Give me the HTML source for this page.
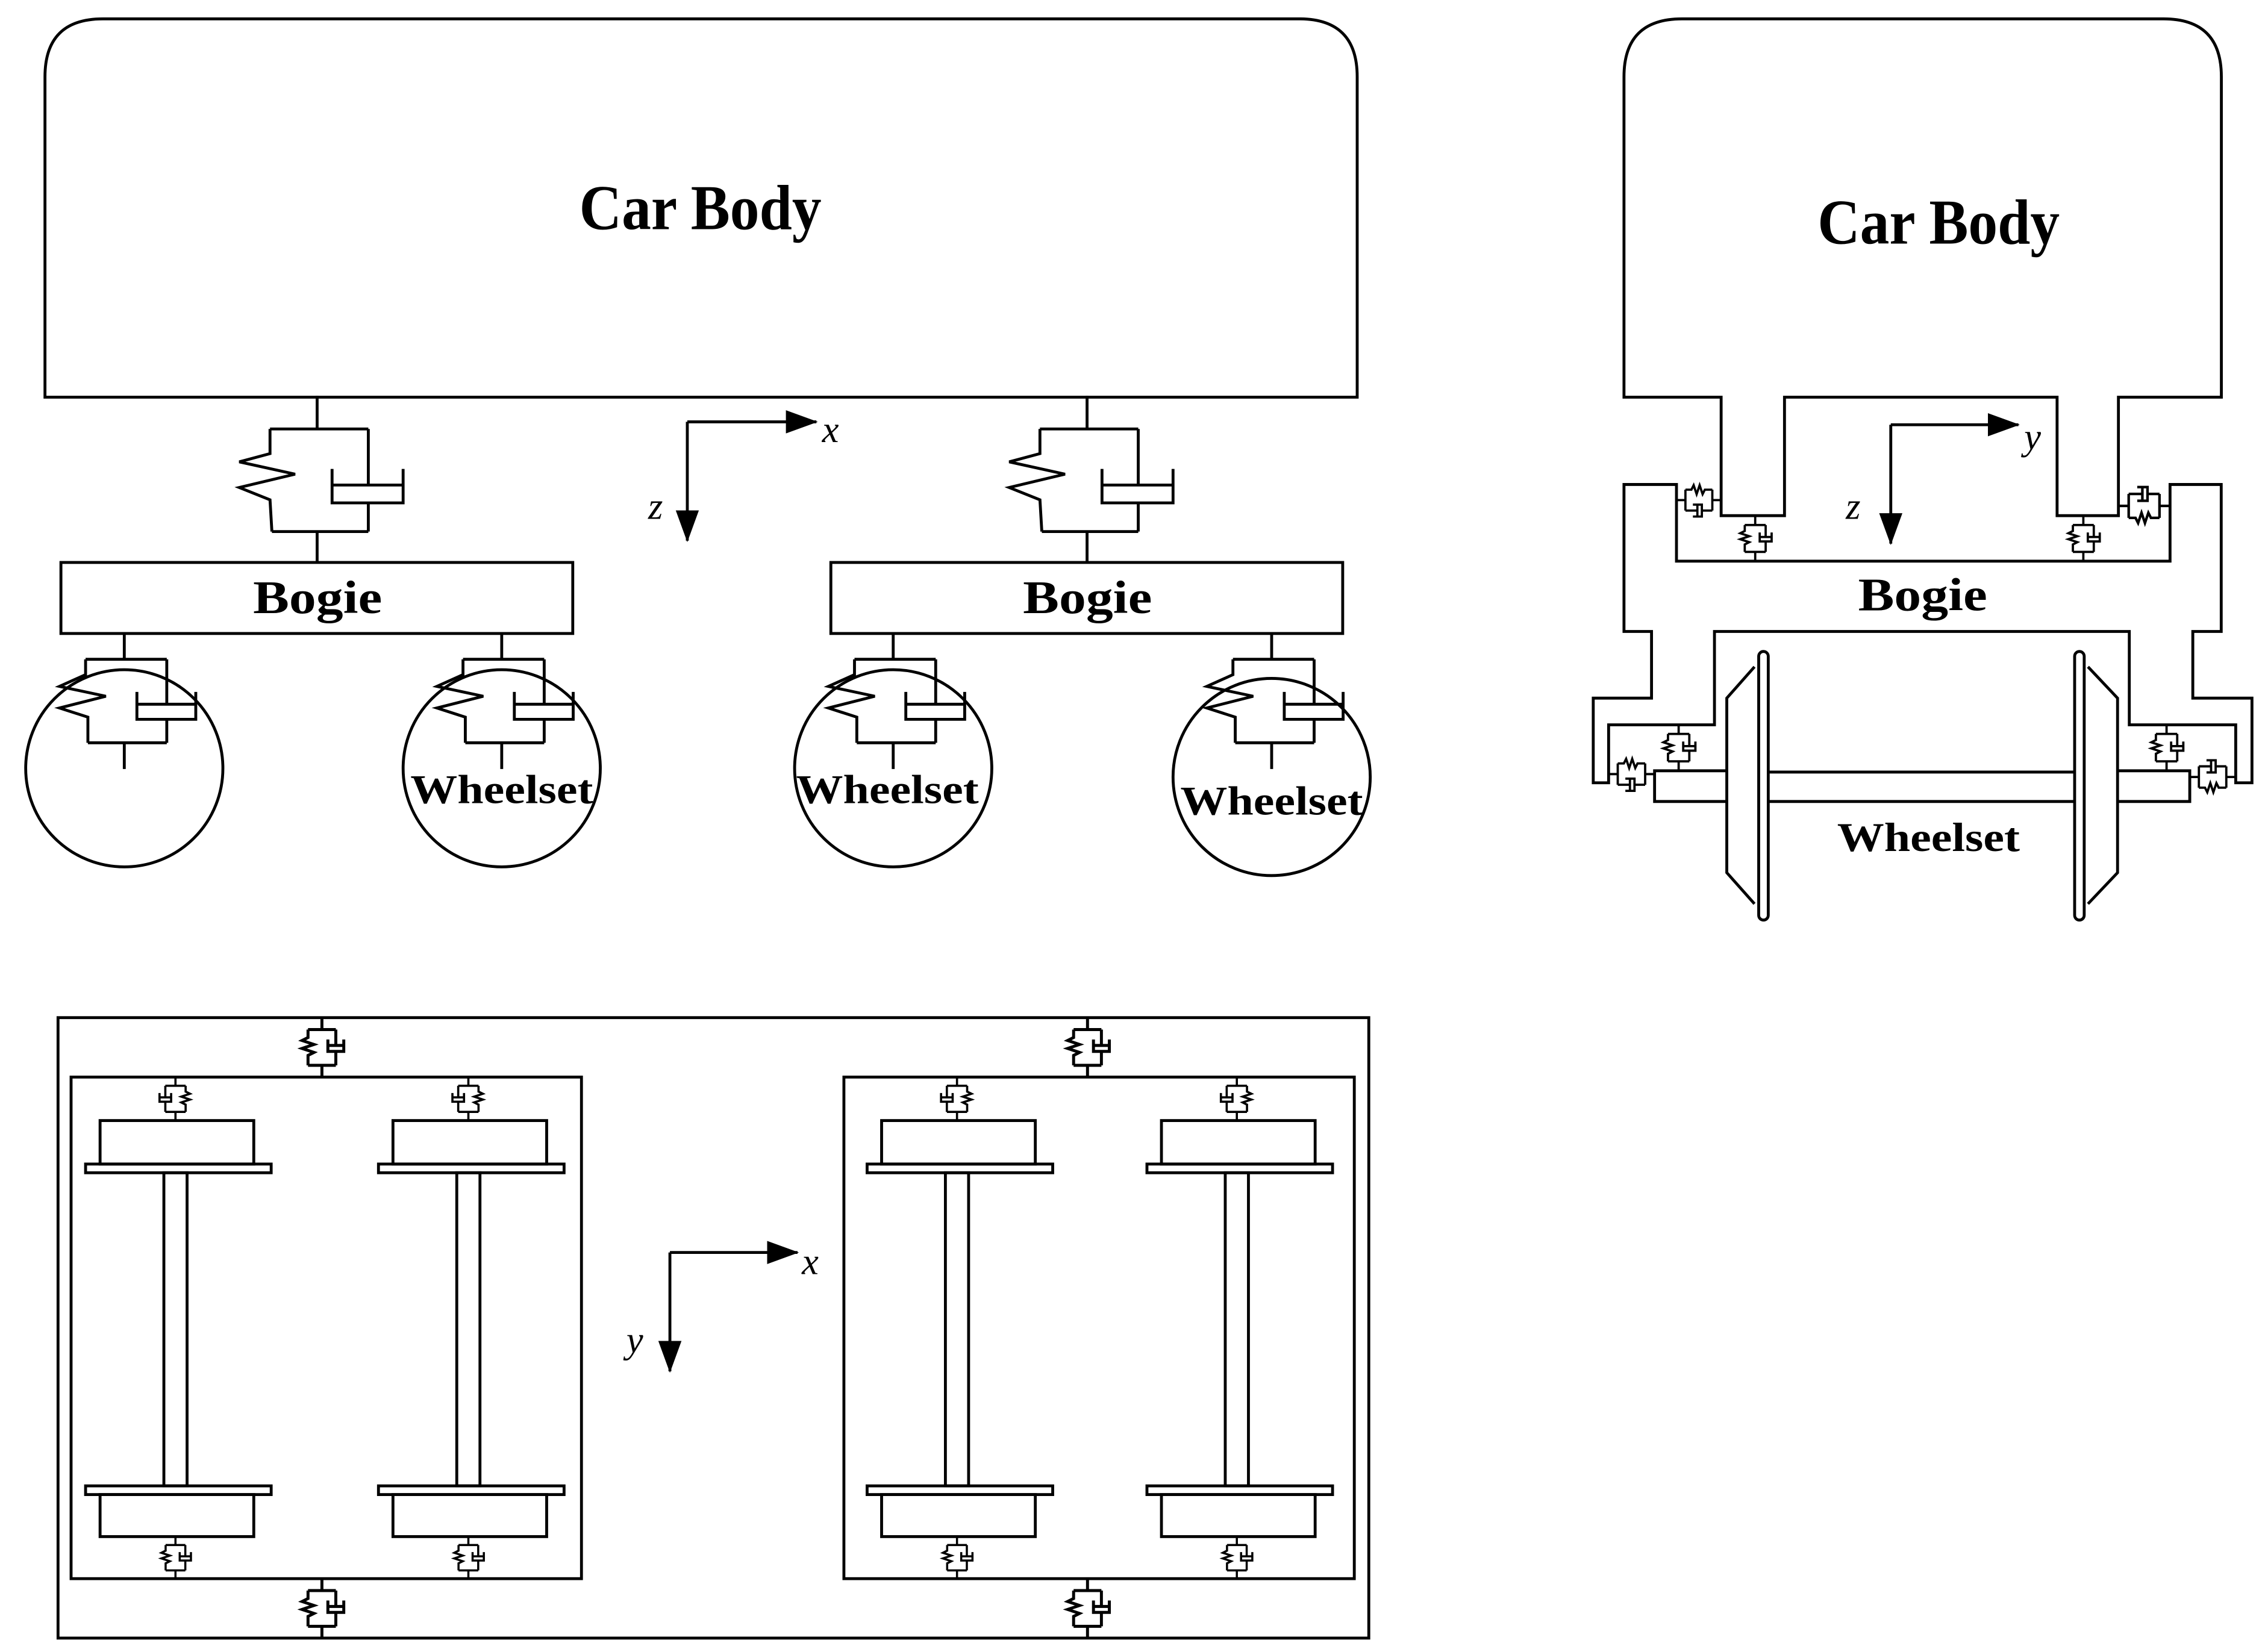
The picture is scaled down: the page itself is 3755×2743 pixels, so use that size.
<!DOCTYPE html>
<html><head><meta charset="utf-8"><style>
html,body{margin:0;padding:0;background:#fff;}
svg{display:block;}
text{font-family:"Liberation Serif",serif;font-weight:bold;fill:#000;}
.it{font-style:italic;font-weight:normal;}
</style></head><body>
<svg width="3755" height="2743" viewBox="0 0 1560 1139.6" xmlns="http://www.w3.org/2000/svg">
<defs>
<marker id="ar" markerWidth="22" markerHeight="16" refX="21" refY="8" orient="auto" markerUnits="userSpaceOnUse" viewBox="0 0 22 16"><path d="M0,0 L22,8 L0,16 Z" fill="#000"/></marker>
<g id="big" fill="none" stroke="#000" stroke-width="2">
<path d="M0,0 V22.9 M-32.5,22.9 H35.3 M-32.5,22.9 V39.9 L-53.7,45.6 L-15.2,54.1 L-53.7,63.3 L-32.5,71.8 L-31.2,93.7 M-31.2,93.7 H35.3 M0,93.7 V115 M35.3,22.9 V61.6 M10.3,61.6 H59.3 M10.3,50.5 V73.9 H59.3 V50.5 M35.3,73.9 V93.7"/>
</g>
<g id="wsp" fill="none" stroke="#000" stroke-width="2">
<path d="M0,0 V17.8 M-26.7,17.8 H29.3 M-26.7,17.8 V28.4 L-44.7,36.5 L-12.7,43.3 L-44.7,51.4 L-25.1,57.7 L-25.1,75.4 M-25.1,75.4 H29.3 M0,75.4 V93.5 M29.3,17.8 V48.8 M8.7,48.8 H49.3 M8.7,40.3 V59.2 H49.3 V40.3 M29.3,59.2 V75.4"/>
</g>
<g id="sd" fill="none" stroke="#000" stroke-width="1.5">
<path d="M0,0 V6 M-7,6 H7 M-7,6 V10 L-10,11.5 L-4,13.5 L-10,15.5 L-4,17.5 L-7,19 V24 M7,6 V14 M3,14 H11 M3,11 V17 H11 V11 M7,17 V24 M-7,24 H7 M0,24 V30"/>
</g>
</defs>

<g fill="none" stroke="#000" stroke-width="2">
<path d="M31,274 V53 Q31,13 71,13 H896 Q936,13 936,53 V274 Z"/>
<rect x="42" y="388" width="353" height="49"/>
<rect x="573" y="388" width="353" height="49"/>
<circle cx="85.7" cy="530" r="68"/>
<circle cx="346" cy="530" r="68"/>
<circle cx="616" cy="530" r="68"/>
<circle cx="877" cy="536" r="68"/>
<path d="M474,291 V373" marker-end="url(#ar)"/>
<path d="M474,291 H563" marker-end="url(#ar)"/>
<path d="M1304,293 V375" marker-end="url(#ar)"/>
<path d="M1304,293 H1392" marker-end="url(#ar)"/>
<path d="M462,864 V946" marker-end="url(#ar)"/>
<path d="M462,864 H550" marker-end="url(#ar)"/>
</g>
<use href="#big" transform="translate(218.7,273)"/>
<use href="#big" transform="translate(749.7,273)"/>
<use href="#wsp" transform="translate(85.7,437)"/>
<use href="#wsp" transform="translate(346,437)"/>
<use href="#wsp" transform="translate(616,437)"/>
<use href="#wsp" transform="translate(877,437)"/>

<text x="483" y="158" font-size="44" text-anchor="middle" textLength="167" lengthAdjust="spacingAndGlyphs">Car Body</text>
<text x="219" y="423" font-size="32" text-anchor="middle" textLength="89" lengthAdjust="spacingAndGlyphs">Bogie</text>
<text x="750" y="423" font-size="32" text-anchor="middle" textLength="89" lengthAdjust="spacingAndGlyphs">Bogie</text>
<text x="346" y="554" font-size="28" text-anchor="middle" textLength="126" lengthAdjust="spacingAndGlyphs">Wheelset</text>
<text x="612" y="554" font-size="28" text-anchor="middle" textLength="126" lengthAdjust="spacingAndGlyphs">Wheelset</text>
<text x="877" y="562" font-size="28" text-anchor="middle" textLength="126" lengthAdjust="spacingAndGlyphs">Wheelset</text>
<text class="it" x="567" y="305" font-size="26">x</text>
<text class="it" x="447" y="358" font-size="26">z</text>

<g fill="none" stroke="#000" stroke-width="2">
<path d="M1120,274 V53 Q1120,13 1160,13 H1492 Q1532,13 1532,53 V274 H1461 V355.7 H1418.7 V274 H1230.7 V355.7 H1187 V274 Z"/>
<path d="M1120,334.2 H1156.2 V387.1 H1496.6 V334.2 H1531.9 V435.6 H1512.3 V481.6 H1553.1 V540 H1541.9 V500 H1468.5 V435.6 H1182.4 V500 H1109.4 V540 H1098.8 V481.6 H1139 V435.6 H1120 Z"/>
<path d="M1190.9,531.7 H1141.1 V552.9 H1190.9"/>
<path d="M1460.4,531.7 H1510.2 V552.9 H1460.4"/>
<path d="M1219.5,532.6 H1430.8 M1219.5,552.9 H1430.8"/>
<path d="M1210,460 L1190.9,481.6 V602 L1210,623.5"/>
<path d="M1440,460 L1460.4,481.6 V602 L1440,623.5"/>
<rect x="1212.9" y="449.4" width="6.6" height="185.3" rx="3.3"/>
<rect x="1430.8" y="449.4" width="6.6" height="185.3" rx="3.3"/>
</g>
<use href="#sd" transform="translate(1210.5,356) scale(1.03)"/>
<use href="#sd" transform="translate(1436.8,356) scale(1.03)"/>
<use href="#sd" transform="translate(1156.2,345) rotate(-90) scale(-1,1) scale(1.03)"/>
<use href="#sd" transform="translate(1461,349) rotate(-90) scale(1.18)"/>
<use href="#sd" transform="translate(1157.7,500) scale(1.05)"/>
<use href="#sd" transform="translate(1494.2,500) scale(1.05)"/>
<use href="#sd" transform="translate(1109.4,534) rotate(-90) scale(-1,1) scale(1.05)"/>
<use href="#sd" transform="translate(1510.2,536) rotate(-90) scale(1.05)"/>
<text x="1337" y="168" font-size="44" text-anchor="middle" textLength="167" lengthAdjust="spacingAndGlyphs">Car Body</text>
<text x="1326" y="421" font-size="32" text-anchor="middle" textLength="89" lengthAdjust="spacingAndGlyphs">Bogie</text>
<text x="1330" y="587" font-size="28" text-anchor="middle" textLength="126" lengthAdjust="spacingAndGlyphs">Wheelset</text>
<text class="it" x="1396" y="310" font-size="26">y</text>
<text class="it" x="1273" y="358" font-size="26">z</text>

<g fill="none" stroke="#000" stroke-width="2">
<rect x="40" y="702" width="904" height="428"/>
<rect x="49" y="743" width="352" height="346"/>
<rect x="582" y="743" width="352" height="346"/>
</g>
<g id="ws" fill="none" stroke="#000" stroke-width="2">
<rect x="69" y="773" width="106" height="30"/>
<rect x="59" y="803" width="128" height="6"/>
<rect x="113" y="809" width="16" height="216"/>
<rect x="59" y="1025" width="128" height="6"/>
<rect x="69" y="1031" width="106" height="29"/>
</g>
<use href="#ws" transform="translate(202,0)"/>
<use href="#ws" transform="translate(539,0)"/>
<use href="#ws" transform="translate(732,0)"/>
<use href="#sd" transform="translate(222,702) scale(1.37)"/>
<use href="#sd" transform="translate(750,702) scale(1.37)"/>
<use href="#sd" transform="translate(222,1089) scale(1.37)"/>
<use href="#sd" transform="translate(750,1089) scale(1.37)"/>
<use href="#sd" transform="translate(121,743) scale(-1,1)"/>
<use href="#sd" transform="translate(323,743) scale(-1,1)"/>
<use href="#sd" transform="translate(660,743) scale(-1,1)"/>
<use href="#sd" transform="translate(853,743) scale(-1,1)"/>
<use href="#sd" transform="translate(121,1060) scale(0.97)"/>
<use href="#sd" transform="translate(323,1060) scale(0.97)"/>
<use href="#sd" transform="translate(660,1060) scale(0.97)"/>
<use href="#sd" transform="translate(853,1060) scale(0.97)"/>
<text class="it" x="553" y="879" font-size="26">x</text>
<text class="it" x="432" y="933" font-size="26">y</text>
</svg>
</body></html>
